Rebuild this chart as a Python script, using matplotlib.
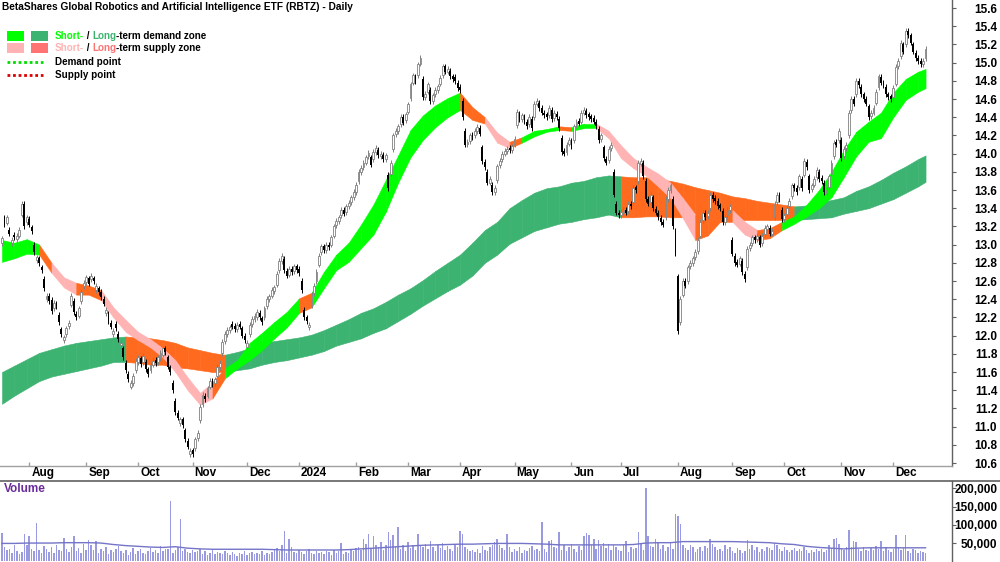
import matplotlib
matplotlib.use("Agg")
import matplotlib.pyplot as plt
import numpy as np
import pandas as pd
from matplotlib import font_manager
from matplotlib.lines import Line2D
from matplotlib.patches import Rectangle

TITLE = "BetaShares Global Robotics and Artificial Intelligence ETF (RBTZ) - Daily"
FIRST_DAY = "2023-07-17"

# daily closes
closes = [
    13.07, 13.22, 13.30, 13.12, 13.05, 13.08, 13.10, 13.16, 13.45, 13.20,
    13.30, 13.22, 13.15, 12.92, 12.86, 12.80, 12.72, 12.52, 12.44, 12.38,
    12.27, 12.36, 12.32, 12.15, 12.02, 11.98, 12.08, 12.14, 12.44, 12.26,
    12.20, 12.30, 12.48, 12.58, 12.64, 12.57, 12.66, 12.60, 12.55, 12.48,
    12.42, 12.35, 12.28, 12.16, 12.10, 12.05, 12.08, 11.96, 11.92, 11.76,
    11.62, 11.52, 11.48, 11.56, 11.72, 11.76, 11.69, 11.78, 11.63, 11.58,
    11.68, 11.72, 11.70, 11.76, 11.81, 11.86, 11.82, 11.66, 11.60, 11.40,
    11.16, 11.10, 11.08, 11.02, 10.86, 10.78, 10.73, 10.70, 10.86, 10.93,
    11.22, 11.35, 11.30, 11.42, 11.50, 11.47, 11.52, 11.66, 11.70, 11.93,
    12.02, 12.06, 12.09, 12.10, 12.07, 12.12, 12.10, 12.00, 11.95, 11.92,
    12.12, 12.18, 12.22, 12.26, 12.20, 12.15, 12.30, 12.40, 12.43, 12.50,
    12.53, 12.68, 12.82, 12.88, 12.72, 12.66, 12.73, 12.70, 12.76, 12.72,
    12.69, 12.50, 12.20, 12.16, 12.12, 12.45, 12.55, 12.70, 12.88, 12.98,
    12.94, 13.00, 12.97, 13.08, 13.20, 13.26, 13.30, 13.38, 13.34, 13.42,
    13.46, 13.52, 13.58, 13.66, 13.80, 13.84, 13.90, 13.96, 14.01, 13.88,
    14.02, 14.06, 13.98, 14.00, 13.94, 13.98, 13.62, 13.90, 14.20, 14.25,
    14.30, 14.40, 14.34, 14.43, 14.54, 14.76, 14.86, 14.80, 14.98, 15.05,
    14.62, 14.66, 14.76, 14.58, 14.64, 14.70, 14.74, 14.83, 14.96, 14.90,
    14.93, 14.85, 14.82, 14.80, 14.72, 14.70, 14.40, 14.10, 14.13, 14.20,
    14.18, 14.25, 14.29, 14.22, 13.92, 13.85, 13.68, 13.72, 13.58, 13.62,
    13.86, 13.92, 14.00, 14.03, 14.05, 14.04, 14.08, 14.16, 14.46, 14.38,
    14.42, 14.35, 14.30, 14.40, 14.28, 14.55, 14.58, 14.50, 14.45, 14.42,
    14.40, 14.50, 14.38, 14.45, 14.40, 14.28, 14.02, 14.00, 14.10, 14.15,
    14.08, 14.30, 14.35, 14.33, 14.45, 14.48, 14.42, 14.40, 14.38, 14.35,
    14.30, 14.15, 14.20, 13.95, 13.90, 14.05, 14.10, 13.55, 13.35, 13.32,
    13.36, 13.38, 13.35, 13.45, 13.42, 13.62, 13.60, 13.90, 13.92, 13.75,
    13.50, 13.45, 13.55, 13.40, 13.35, 13.30, 13.25, 13.22, 13.50, 13.60,
    13.65, 13.20, 12.90, 12.05, 12.40, 12.60, 12.55, 12.75, 12.80, 12.85,
    12.92, 13.05, 13.25, 13.35, 13.30, 13.35, 13.55, 13.50, 13.48, 13.42,
    13.40, 13.25, 13.30, 13.38, 13.42, 12.90, 12.80, 12.78, 12.85, 12.70,
    12.62, 12.95, 13.00, 13.08, 13.05, 13.10, 13.00, 13.10, 13.18, 13.20,
    13.12, 13.15, 13.45, 13.55, 13.50, 13.28, 13.32, 13.40, 13.48, 13.65,
    13.62, 13.58, 13.75, 13.62, 13.92, 13.85, 13.60, 13.65, 13.72, 13.82,
    13.72, 13.70, 13.58, 13.60, 13.75, 13.90, 14.12, 14.10, 14.25, 13.95,
    14.05, 14.10, 14.45, 14.60, 14.55, 14.80, 14.75, 14.65, 14.60, 14.55,
    14.40, 14.45, 14.50, 14.68, 14.85, 14.78, 14.75, 14.65, 14.62, 14.60,
    14.72, 14.95, 15.02, 15.22, 15.12, 15.35, 15.30, 15.22, 15.12, 15.05,
    15.02, 14.98, 15.02, 15.15,
]

# intraday move, close minus open, in cents (positive = hollow candle)
body_cents = [
    5, -8, 6, -4, 3, -3, 4, 6, 12, -25,
    5, -6, -4, -8, 3, -5, -3, -10, 4, -6,
    -12, 6, -3, -8, -5, 3, 6, 4, 10, -12,
    -4, 8, 10, 4, 5, -6, 4, -3, 5, -4,
    -6, -5, 3, -8, -4, 3, -5, -6, 2, -10,
    -8, -6, 4, 8, 10, 5, -6, 7, -8, -5,
    6, 4, -3, 5, 6, 7, -4, -10, -5, -8,
    -12, -5, 4, -6, -10, -6, 3, -4, 10, 6,
    15, 10, -4, 8, 6, -3, 4, 10, 5, 12,
    8, 4, 3, -3, -4, 5, -3, -8, -5, 4,
    10, 5, 4, 6, -5, -4, 10, 8, 3, 6,
    4, 12, 10, 6, -12, -5, 6, -3, 5, -4,
    -4, -10, -8, -4, 3, 12, 8, 10, 10, 6,
    -4, 6, -3, 8, 10, 5, 4, 6, -4, 6,
    4, 5, 6, 8, 10, 4, 5, 6, 4, -8,
    8, 4, -6, 3, -5, 4, -15, 12, 15, 4,
    5, 8, -6, 6, 8, 15, 8, -5, 12, 6,
    -20, 4, 8, -12, 6, 5, 4, 6, 10, -6,
    3, -6, -3, -4, -6, -3, -18, -15, 3, 6,
    -3, 5, 4, -6, -15, -6, -12, 4, -8, 4,
    15, 5, 6, 3, 2, -2, 4, 6, 15, -6,
    4, -6, -5, 8, -10, 15, 3, -6, -5, -3,
    -3, 8, -10, 6, -4, -10, -15, -3, 8, 4,
    -6, 15, 4, -3, 10, 3, -5, -3, -3, -4,
    -5, -12, 4, -12, -4, 12, 4, -25, -10, -3,
    4, 3, -3, 8, -3, 15, -3, 20, 3, -15,
    -20, -5, 8, -12, -4, -5, -4, -3, 20, 10,
    5, -30, -25, -60, 25, 15, -5, 15, 4, 5,
    6, 12, 15, 8, -5, 4, 15, -5, -3, -6,
    -3, -12, 5, 6, 4, -15, -8, -3, 6, -12,
    -6, 20, 4, 6, -3, 4, -8, 8, 6, 3,
    -6, 3, 15, 8, -5, -10, 4, 6, 6, 12,
    -3, -4, 12, -10, 15, -6, -15, 4, 6, 8,
    -8, -3, -10, 3, 12, 12, 15, -3, 10, -20,
    8, 4, 25, 12, -5, 15, -5, -8, -5, -5,
    -12, 4, 5, 12, 12, -6, -3, -8, -3, -3,
    10, 18, 6, 15, -8, 15, -5, -8, -8, -6,
    -3, -4, 4, 10,
]

# daily volume, thousands of units
volumes_k = [
    77, 38, 30, 35, 22, 44, 28, 20, 25, 74,
    46, 70, 33, 28, 104, 30, 24, 42, 35, 26,
    38, 22, 45, 30, 27, 63, 34, 25, 40, 68,
    29, 36, 24, 47, 31, 58, 44, 30, 56, 23,
    33, 27, 38, 20, 30, 25, 35, 43, 28, 22,
    31, 18, 26, 37, 21, 29, 34, 24, 19, 28,
    36, 25, 30, 22, 41, 27, 33, 35, 164, 24,
    30, 38, 115, 28, 34, 26, 22, 31, 25, 29,
    33, 21, 27, 18, 24, 30, 20, 26, 23, 19,
    28, 22, 17, 25, 21, 15, 24, 20, 27, 18,
    22, 26, 19, 24, 21, 28, 17, 23, 20, 25,
    30, 36, 28, 45, 82, 24, 62, 38, 26, 22,
    30, 25, 20, 27, 33, 24, 19, 28, 22, 26,
    21, 29, 25, 18, 31, 23, 27, 50, 20, 26,
    24, 32, 28, 36, 40, 30, 62, 48, 75, 35,
    68, 44, 38, 52, 30, 46, 80, 58, 72, 40,
    93, 34, 45, 28, 52, 36, 44, 30, 76, 42,
    38, 47, 33, 55, 40, 29, 44, 36, 50, 31,
    42, 35, 27, 48, 38, 82, 76, 40, 33, 28,
    30, 26, 35, 24, 42, 31, 28, 38, 46, 52,
    60, 44, 36, 30, 76, 40, 26, 34, 29, 38,
    24, 32, 27, 36, 41, 30, 35, 28, 107, 33,
    26, 56, 58, 40, 36, 80, 32, 45, 29, 38,
    48, 35, 26, 42, 30, 70, 78, 72, 45, 62,
    34, 58, 42, 50, 36, 48, 32, 44, 38, 30,
    28, 45, 56, 26, 40, 33, 36, 80, 48, 30,
    202, 70, 42, 38, 60, 50, 34, 46, 28, 40,
    52, 35, 130, 125, 103, 45, 36, 30, 44, 38,
    26, 34, 40, 29, 42, 36, 60, 48, 38, 30,
    33, 27, 44, 35, 40, 29, 24, 36, 31, 22,
    28, 57, 33, 45, 30, 38, 26, 34, 29, 40,
    37, 31, 49, 44, 35, 28, 40, 32, 26, 30,
    36, 27, 33, 29, 38, 31, 24, 30, 26, 35,
    28, 33, 25, 30, 44, 37, 60, 65, 48, 34,
    30, 40, 85, 38, 55, 52, 35, 28, 40, 32,
    27, 36, 30, 42, 33, 55, 29, 38, 31, 26,
    34, 72, 40, 30, 36, 72, 28, 24, 33, 30,
    22, 28, 26, 24,
]

# zone bands, sampled every 5 trading days (day index of each sample)
band_days = list(range(0, 371, 5)) + [373]

short_top = [
    13.05, 13.02, 13.06, 13.00, 12.80, 12.64, 12.58, 12.55, 12.50, 12.31,
    12.17, 12.04, 11.96, 11.86, 11.73, 11.54, 11.37, 11.49, 11.64, 11.73,
    11.92, 12.03, 12.15, 12.26, 12.41, 12.47, 12.70, 12.89, 13.02, 13.22,
    13.44, 13.71, 13.98, 14.26, 14.42, 14.53, 14.61, 14.67, 14.51, 14.40,
    14.23, 14.13, 14.18, 14.25, 14.27, 14.30, 14.29, 14.33, 14.33, 14.25,
    14.09, 13.95, 13.86, 13.78, 13.68, 13.51, 13.33, 13.29, 13.40, 13.38,
    13.25, 13.16, 13.18, 13.25, 13.31, 13.44, 13.60, 13.80, 14.04, 14.24,
    14.35, 14.45, 14.67, 14.82, 14.90, 14.93,
]
short_bot = [
    12.81, 12.85, 12.90, 12.89, 12.69, 12.53, 12.45, 12.45, 12.39, 12.20,
    12.04, 11.95, 11.87, 11.76, 11.60, 11.40, 11.24, 11.31, 11.53, 11.64,
    11.73, 11.84, 11.97, 12.09, 12.25, 12.31, 12.52, 12.72, 12.81, 12.96,
    13.11, 13.36, 13.68, 13.96, 14.15, 14.29, 14.40, 14.48, 14.37, 14.33,
    14.12, 14.06, 14.12, 14.19, 14.24, 14.26, 14.25, 14.28, 14.28, 14.17,
    13.95, 13.84, 13.76, 13.64, 13.51, 13.29, 13.05, 13.10, 13.25, 13.25,
    13.11, 13.05, 13.07, 13.16, 13.23, 13.31, 13.40, 13.52, 13.74, 13.97,
    14.13, 14.17, 14.40, 14.59, 14.68, 14.72,
]
long_top = [
    11.60, 11.67, 11.74, 11.81, 11.85, 11.89, 11.92, 11.94, 11.96, 11.98,
    11.99, 11.98, 11.97, 11.95, 11.92, 11.87, 11.84, 11.81, 11.79, 11.82,
    11.86, 11.92, 11.94, 11.96, 11.98, 12.01, 12.06, 12.12, 12.18, 12.25,
    12.30, 12.37, 12.45, 12.52, 12.61, 12.71, 12.80, 12.89, 13.02, 13.16,
    13.25, 13.40, 13.49, 13.57, 13.62, 13.64, 13.68, 13.70, 13.74, 13.76,
    13.75, 13.74, 13.74, 13.72, 13.70, 13.67, 13.63, 13.60, 13.57, 13.53,
    13.51, 13.48, 13.46, 13.44, 13.42, 13.43, 13.46, 13.49, 13.52, 13.59,
    13.64, 13.71, 13.79, 13.86, 13.94, 13.98,
]
long_bot = [
    11.25, 11.34, 11.42, 11.50, 11.55, 11.58, 11.61, 11.64, 11.67, 11.71,
    11.71, 11.70, 11.68, 11.68, 11.65, 11.64, 11.62, 11.60, 11.60, 11.62,
    11.64, 11.68, 11.71, 11.73, 11.76, 11.79, 11.83, 11.89, 11.93, 11.97,
    12.03, 12.08, 12.16, 12.24, 12.33, 12.41, 12.49, 12.56, 12.66, 12.80,
    12.89, 13.01, 13.08, 13.15, 13.19, 13.23, 13.25, 13.28, 13.30, 13.33,
    13.30, 13.30, 13.31, 13.31, 13.30, 13.30, 13.29, 13.29, 13.28, 13.27,
    13.27, 13.27, 13.27, 13.27, 13.27, 13.28, 13.29, 13.30, 13.34, 13.37,
    13.40, 13.45, 13.50, 13.57, 13.64, 13.69,
]
# zone state of each band segment: G demand, P supply, O mixed
short_zones = "GGGOPPOOPPPPPPPPPOGGGGGGOGGGGGGGGGGGGOOPPOGGGOGGPPPPPPPPOOOPPOOGGGGGGGGGGGG"
long_zones = "G" * 10 + "O" * 8 + "G" * 32 + "O" * 14 + "G" * 11

# volume average line, thousands, at band_days
vol_avg_k = [
    49, 49, 50, 50, 50, 51, 51, 51, 50, 46, 43, 41, 39, 38, 40,
    36, 34, 33, 33, 33, 33, 33, 32, 31, 31, 31, 31, 31, 32, 34,
    36, 38, 40, 42, 44, 45, 46, 47, 47, 48, 49, 49, 49, 48, 47,
    45, 45, 45, 45, 45, 45, 46, 50, 51, 51, 54, 54, 54, 54, 54,
    53, 52, 51, 48, 46, 41, 38, 36, 34, 36, 37, 37, 37, 37, 37, 37,
]

price_ticks = [10.6, 10.8, 11.0, 11.2, 11.4, 11.6, 11.8, 12.0, 12.2, 12.4, 12.6,
               12.8, 13.0, 13.2, 13.4, 13.6, 13.8, 14.0, 14.2, 14.4, 14.6, 14.8,
               15.0, 15.2, 15.4, 15.6]
volume_ticks = [50000, 100000, 150000, 200000]

W, H = 1000, 562
AXIS_X = 952
PX_PER_DAY = 2.476
X0 = 2
WICK = 0.03
LEGEND_SIZE = 7.1
TITLE_SIZE = 7.3

SHORT_DEMAND = "#00FF00"
LONG_DEMAND = "#3CB371"
SHORT_SUPPLY = "#FFB3B3"
LONG_SUPPLY = "#FF7373"
MIXED = "#FF6A1F"
SHORT_COLORS = {"G": SHORT_DEMAND, "P": SHORT_SUPPLY, "O": MIXED}
LONG_COLORS = {"G": LONG_DEMAND, "P": LONG_SUPPLY, "O": MIXED}

names = {f.name for f in font_manager.fontManager.ttflist}
FONT = "Liberation Sans Narrow" if "Liberation Sans Narrow" in names else "Liberation Sans"
plt.rcParams["font.family"] = [FONT, "DejaVu Sans"]
plt.rcParams["font.weight"] = "bold"


def fx(x):
    return x / W


def fy(y):
    return 1 - y / H


fig = plt.figure(figsize=(W / 100, H / 100), dpi=100, facecolor="white")
ax = fig.add_axes([0, fy(466), fx(AXIS_X), 466 / H])
axv = fig.add_axes([0, 0, fx(AXIS_X), 81 / H])

n = len(closes)
idx = np.arange(n)
xlim = (-X0 / PX_PER_DAY, (AXIS_X - X0) / PX_PER_DAY)

# bands
for k, z in enumerate(long_zones):
    sl = slice(k, k + 2)
    col = LONG_COLORS[z]
    ax.fill_between(band_days[sl], long_bot[sl], long_top[sl],
                    facecolor=col, edgecolor=col, lw=0.4, zorder=1)
for k, z in enumerate(short_zones):
    sl = slice(k, k + 2)
    col = SHORT_COLORS[z]
    ax.fill_between(band_days[sl], short_bot[sl], short_top[sl],
                    facecolor=col, edgecolor=col, lw=0.4, zorder=2)

# candles
c = np.array(closes)
o = c - np.array(body_cents) / 100
up = c >= o
lo_body = np.minimum(o, c)
body = np.maximum(np.abs(c - o), 0.012)
hi = np.maximum(o, c) + WICK
lo = lo_body - WICK
ax.vlines(idx[up], lo[up], hi[up], color="#808080", lw=0.7, zorder=3)
ax.vlines(idx[~up], lo[~up], hi[~up], color="black", lw=0.7, zorder=3)
ax.bar(idx[up], body[up], bottom=lo_body[up], width=0.75,
       facecolor="white", edgecolor="#808080", lw=0.6, zorder=4)
ax.bar(idx[~up], body[~up], bottom=lo_body[~up], width=0.75,
       color="black", lw=0, zorder=4)

ax.set_xlim(*xlim)
ax.set_ylim(15.6 - (466 - 8) / 91, 15.6 + 8 / 91)

# month axis
dates = pd.bdate_range(FIRST_DAY, periods=n)
month_pos = [i for i in range(1, n) if dates[i].month != dates[i - 1].month]
ax.set_xticks(month_pos)
ax.set_xticklabels([])
ax.tick_params(axis="x", direction="in", length=3, color="#a0a0a0", width=1)
for i in month_pos:
    lab = "2024" if dates[i].month == 1 else dates[i].strftime("%b")
    ax.text(i + 2 / PX_PER_DAY, -7 / 466, lab, transform=ax.get_xaxis_transform(),
            ha="left", va="center", fontsize=8.5, fontweight="bold")

ax.yaxis.tick_right()
ax.set_yticks(price_ticks)
ax.set_yticklabels([f"{v:.1f}" for v in price_ticks], ha="right")
ax.tick_params(axis="y", direction="out", length=3, color="#606060",
               pad=29.5, labelsize=8.5)

for a in (ax, axv):
    a.set_facecolor("white")
    for s in ("top", "left", "bottom"):
        a.spines[s].set_visible(False)
    a.spines["right"].set_color("#606060")
    a.spines["right"].set_linewidth(1)
ax.spines["bottom"].set_visible(True)
ax.spines["bottom"].set_color("#a0a0a0")
ax.spines["bottom"].set_linewidth(1)

# volume panel
axv.bar(idx, np.array(volumes_k) * 1000, width=0.6, color="#9A9AE0", lw=0, zorder=2)
axv.plot(band_days, np.array(vol_avg_k) * 1000, color="#7474C8", lw=1.0, zorder=3)
axv.set_xlim(*xlim)
axv.set_ylim(-1900, 220000)
axv.set_xticks([])
axv.yaxis.tick_right()
axv.set_yticks(volume_ticks)
axv.set_yticklabels([f"{v:,}" for v in volume_ticks], ha="right")
axv.tick_params(axis="y", direction="out", length=3, color="#606060",
                pad=29.5, labelsize=8.5)
fig.text(fx(4), fy(489), "Volume", color="#6A2C9A", fontsize=8.5,
         fontweight="bold", ha="left", va="center")

fig.add_artist(Line2D([0, 1], [fy(480.5), fy(480.5)], color="#606060", lw=1.2))

# title and legend
fig.text(fx(2), fy(7), TITLE, ha="left", va="center", fontsize=TITLE_SIZE, fontweight="bold")

renderer = fig.canvas.get_renderer()


def colored_line(x, y, pieces):
    for s, col in pieces:
        t = fig.text(fx(x), fy(y), s, color=col, fontsize=LEGEND_SIZE, fontweight="bold",
                     ha="left", va="center")
        x += t.get_window_extent(renderer).width


for y0, c1, c2 in ((31, SHORT_DEMAND, LONG_DEMAND), (43, SHORT_SUPPLY, LONG_SUPPLY)):
    for x0, col in ((7, c1), (31, c2)):
        fig.add_artist(Rectangle((fx(x0), fy(y0 + 10)), 17 / W, 10 / H,
                                 transform=fig.transFigure, facecolor=col, edgecolor="none"))

colored_line(55, 36, [("Short-", SHORT_DEMAND), (" / ", "black"), ("Long", LONG_DEMAND),
                      ("-term demand zone", "black")])
colored_line(55, 48, [("Short-", SHORT_SUPPLY), (" / ", "black"), ("Long", LONG_SUPPLY),
                      ("-term supply zone", "black")])
fig.add_artist(Line2D([fx(7), fx(43)], [fy(62), fy(62)], color="#00DD00", lw=2, ls=(0, (1, 1))))
fig.add_artist(Line2D([fx(7), fx(43)], [fy(75), fy(75)], color="#DD0000", lw=2, ls=(0, (1, 1))))
colored_line(55, 62, [("Demand point", "black")])
colored_line(55, 75, [("Supply point", "black")])

fig.savefig("out.png", dpi=100, facecolor="white")
